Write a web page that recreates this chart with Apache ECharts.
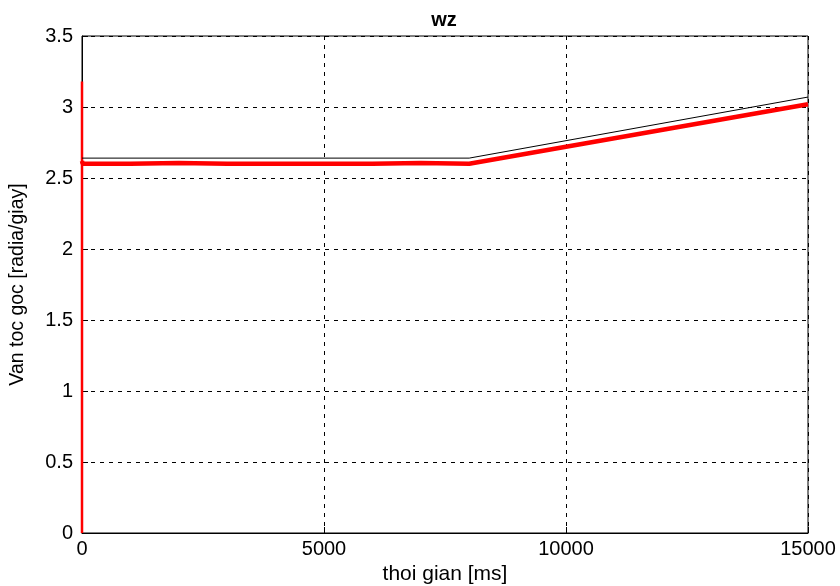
<!DOCTYPE html>
<html><head><meta charset="utf-8">
<script src="https://cdn.jsdelivr.net/npm/echarts@6/dist/echarts.min.js"></script>
<style>html,body{margin:0;padding:0;background:#fff}#c{width:840px;height:586px}</style>
</head><body><div id="c"></div>
<script>
const titleText = 'wz';
const xName = 'thoi gian [ms]';
const yName = 'Van toc goc [radia/giay]';
const refTime = [0, 8000, 15000];
const refValue = [2.64, 2.64, 3.07];
const spikeTime = [0, 0];
const spikeValue = [0, 3.18];
const actTime = [0, 15, 1000, 2000, 3000, 4000, 5000, 6000, 7000, 8000, 9000, 10000, 11000, 12000, 13000, 14000, 15000];
const actValue = [2.62, 2.60, 2.60, 2.605, 2.60, 2.60, 2.60, 2.60, 2.605, 2.60, 2.66, 2.72, 2.78, 2.84, 2.90, 2.96, 3.02];

const zip = (a, b) => a.map((v, i) => [v, b[i]]);
const chart = echarts.init(document.getElementById('c'));
const font = 'Liberation Sans, Arial, sans-serif';
const axisCommon = {
  axisLine: { show: true, lineStyle: { color: '#000' } },
  axisTick: { show: true, inside: true, length: 6, lineStyle: { color: '#000' } },
  splitLine: { show: true, lineStyle: { color: '#000', type: [4, 5], width: 1 } }
};
chart.setOption({
  animation: false,
  title: { text: titleText, left: 439, top: 5, textAlign: 'center',
    textStyle: { fontFamily: font, fontSize: 20, fontWeight: 'bold', color: '#000' } },
  grid: { left: 82, right: 32, top: 36, bottom: 53, containLabel: false, outerBoundsMode: 'none',
    show: true, borderColor: '#000', borderWidth: 1, backgroundColor: '#fff' },
  xAxis: Object.assign({
    type: 'value', min: 0, max: 15000, interval: 5000,
    name: xName, nameLocation: 'middle', nameGap: 31,
    nameTextStyle: { fontFamily: font, fontSize: 21, color: '#000' },
    axisLabel: { fontFamily: font, fontSize: 20, color: '#000', margin: 6, formatter: v => String(v) }
  }, axisCommon),
  yAxis: Object.assign({
    type: 'value', min: 0, max: 3.5, interval: 0.5,
    name: yName, nameLocation: 'middle', nameGap: 54,
    nameTextStyle: { fontFamily: font, fontSize: 19.5, color: '#000' },
    axisLabel: { fontFamily: font, fontSize: 20, color: '#000', margin: 9, formatter: v => String(v) }
  }, axisCommon),
  series: [
    { type: 'line', data: zip(refTime, refValue), showSymbol: false, symbol: 'none',
      lineStyle: { color: '#000', width: 1 }, z: 3 },
    { type: 'line', data: zip(spikeTime, spikeValue), showSymbol: false, symbol: 'none',
      lineStyle: { color: '#ff0000', width: 2.5 }, z: 2 },
    { type: 'line', data: zip(actTime, actValue), showSymbol: false, symbol: 'none',
      lineStyle: { color: '#ff0000', width: 4.5 }, z: 2 }
  ]
});
</script></body></html>
